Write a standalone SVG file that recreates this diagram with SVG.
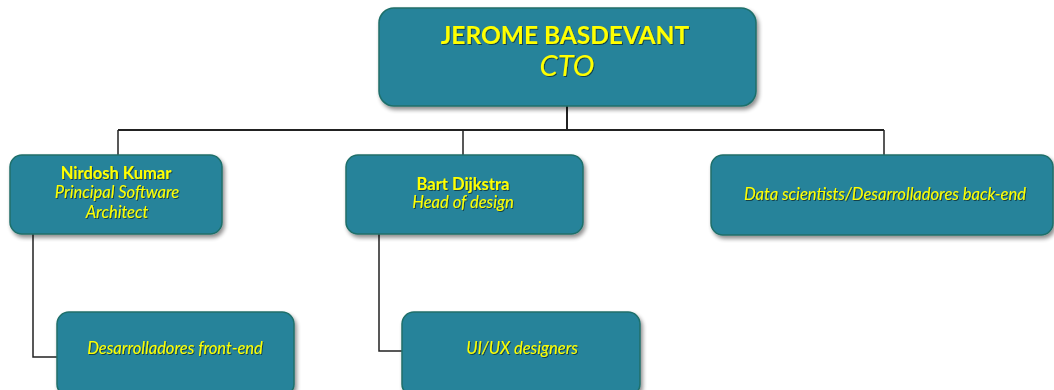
<svg xmlns="http://www.w3.org/2000/svg" width="1054" height="390" viewBox="0 0 1054 390">
  <defs>
    <filter id="shadow" x="-10%" y="-10%" width="125%" height="130%">
      <feGaussianBlur in="SourceAlpha" stdDeviation="2"/>
      <feOffset dx="2" dy="3" result="b"/>
      <feComponentTransfer><feFuncA type="linear" slope="0.45"/></feComponentTransfer>
      <feMerge><feMergeNode/><feMergeNode in="SourceGraphic"/></feMerge>
    </filter>
    <filter id="tshadow" x="-5%" y="-20%" width="110%" height="150%">
      <feGaussianBlur in="SourceAlpha" stdDeviation="0.6"/>
      <feOffset dx="1" dy="1"/>
      <feComponentTransfer><feFuncA type="linear" slope="0.5"/></feComponentTransfer>
      <feMerge><feMergeNode/><feMergeNode in="SourceGraphic"/></feMerge>
    </filter>
  </defs>
  <style>
    .box { fill: #25839a; stroke: #1f6f6a; stroke-width: 1.5; filter: url(#shadow); }
    .t { fill: #ffff00; font-family: Lato, "Open Sans", sans-serif; text-anchor: middle; filter: url(#tshadow); }
    .b { font-weight: bold; }
    .i { font-style: italic; }
    .s { font-size: 16.5px; }
    .conn { fill: none; stroke: #222; stroke-width: 1.5; }
  </style>
  <rect width="1054" height="390" fill="#ffffff"/>

  <g id="connectors">
    <path class="conn" d="M567 106 V130 M118 130 H884 M463 130 H567" style="stroke-width:2"/>
    <path class="conn" d="M118 130 V155 M463 130 V155 M884 130 V155"/>
    <path class="conn" d="M33 234 V357 H57"/>
    <path class="conn" d="M379 234 V351 H402"/>
  </g>

  <g id="cto">
    <rect class="box" x="379" y="8" width="377" height="98" rx="15"/>
    <text class="t b" x="565" y="44" font-size="24.5">JEROME BASDEVANT</text>
    <text class="t i" x="567" y="76" font-size="29">CTO</text>
  </g>

  <g id="nirdosh">
    <rect class="box" x="10" y="155" width="212" height="79" rx="12"/>
    <text class="t b s" x="116" y="179">Nirdosh Kumar</text>
    <text class="t i s" x="117" y="198">Principal Software</text>
    <text class="t i s" x="117" y="218">Architect</text>
  </g>

  <g id="bart">
    <rect class="box" x="346" y="155" width="237" height="79" rx="12"/>
    <text class="t b s" x="463" y="190">Bart Dijkstra</text>
    <text class="t i s" x="463" y="208">Head of design</text>
  </g>

  <g id="backend">
    <rect class="box" x="711" y="155" width="342" height="80" rx="12"/>
    <text class="t i s" x="885" y="200">Data scientists/Desarrolladores back-end</text>
  </g>

  <g id="frontend">
    <rect class="box" x="57" y="312" width="237" height="84" rx="12"/>
    <text class="t i s" x="175" y="354">Desarrolladores front-end</text>
  </g>

  <g id="uiux">
    <rect class="box" x="402" y="312" width="238" height="84" rx="12"/>
    <text class="t i s" x="522" y="354">UI/UX designers</text>
  </g>
</svg>
